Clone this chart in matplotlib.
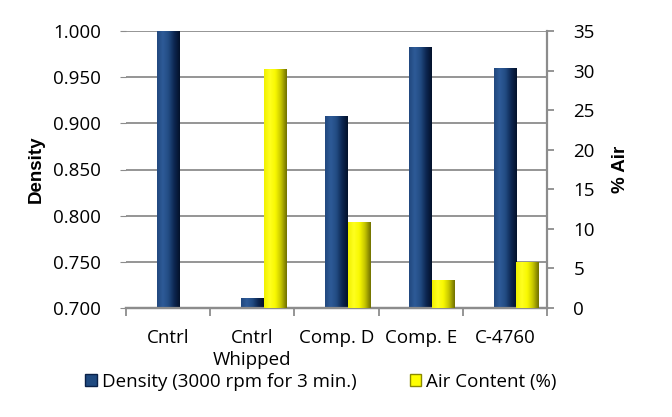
import matplotlib
matplotlib.use("Agg")
import matplotlib.pyplot as plt
import numpy as np
from matplotlib.colors import LinearSegmentedColormap
from matplotlib.patches import Patch

plt.rcParams['font.family'] = ['Open Sans', 'DejaVu Sans']

categories = ["Cntrl", "Cntrl\nWhipped", "Comp. D", "Comp. E", "C-4760"]
density = [1.000, 0.711, 0.908, 0.983, 0.960]
air = [0.0, 30.2, 10.9, 3.5, 5.8]
density_ticks = [0.700, 0.750, 0.800, 0.850, 0.900, 0.950, 1.000]
air_ticks = [0, 5, 10, 15, 20, 25, 30, 35]

fig = plt.figure(figsize=(6.72, 4.17), dpi=100)
ax = fig.add_axes([126/672, 1-308/417, (547-126)/672, (308-31)/417])
ax2 = ax.twinx()

x = np.arange(len(categories))
w = 0.27

navy_cmap = LinearSegmentedColormap.from_list("navy", ["#22487e", "#2e5b98", "#224c83", "#0d2752", "#03112a"])
yel_cmap = LinearSegmentedColormap.from_list("yel", ["#f0f000", "#ffff20", "#f8f800", "#c4c400", "#707000"])

def shade(axis, bars, cmap):
    grad = np.linspace(0, 1, 64).reshape(1, -1)
    for b in bars:
        x0, y0 = b.get_x(), b.get_y()
        x1, y1 = x0 + b.get_width(), y0 + b.get_height()
        if b.get_height() <= 0:
            continue
        im = axis.imshow(grad, cmap=cmap, extent=[x0, x1, y0, y1], aspect='auto',
                         interpolation='bicubic', zorder=3)
        im.set_clip_path(b)

b1 = ax.bar(x, np.array(density) - 0.7, w, bottom=0.7, color="#1f4a80", zorder=2, linewidth=0)
ax.set_ylim(0.7, 1.0)
shade(ax, b1, navy_cmap)

b2 = ax2.bar(x + w, air, w, color="#ffff00", zorder=2, linewidth=0)
ax2.set_ylim(0, 35)
shade(ax2, b2, yel_cmap)
ax.set_xlim(-0.5, 4.5)
ax2.set_xlim(-0.5, 4.5)

fs = 13.5
gray = "#8c8c8c"
ax.set_yticks(density_ticks)
ax.set_yticklabels([f"{v:.3f}" for v in density_ticks], fontsize=fs)
ax.yaxis.grid(True, color=gray, linewidth=1.3, zorder=0)
ax.set_axisbelow(True)
ax.tick_params(axis='y', length=4, color=gray, pad=14)
ax2.set_yticks(air_ticks)
ax2.set_yticklabels([str(v) for v in air_ticks], fontsize=fs)
ax2.tick_params(axis='y', length=5, width=1.3, color=gray, pad=14)

ax.set_xticks(np.arange(-0.5, 5, 1), minor=False)
ax.set_xticklabels([])
ax.tick_params(axis='x', length=6, width=1.3, color=gray)
ax.set_xticks(x, minor=True)
ax.set_xticklabels(categories, minor=True, fontsize=fs, linespacing=1.3)
ax.tick_params(axis='x', which='minor', length=0, pad=15)
ax2.tick_params(axis='x', which='both', length=0)

for a in (ax, ax2):
    a.spines['top'].set_visible(False)
    a.spines['left'].set_visible(False)
    a.spines['right'].set_visible(False)
    a.spines['bottom'].set_color(gray)
    a.spines['bottom'].set_linewidth(1.6)
ax2.spines['right'].set_visible(True)
ax2.spines['right'].set_color(gray)
ax2.spines['right'].set_linewidth(1.6)

ax.set_ylabel("Density", fontsize=fs, fontweight='bold', family=['Liberation Sans', 'DejaVu Sans'], labelpad=6)
ax2.set_ylabel("% Air", fontsize=fs, fontweight='bold', family=['Liberation Sans', 'DejaVu Sans'], labelpad=12)

handles = [Patch(facecolor="#1f4a80", edgecolor="#0a2148"), Patch(facecolor="#ffff00", edgecolor="#8a8a00")]
fig.legend(handles, ["Density (3000 rpm for 3 min.)", "Air Content (%)"], loc='center',
           bbox_to_anchor=(0.478, 1-382/417), ncol=2, frameon=False, fontsize=fs,
           handlelength=0.6, handleheight=0.6, handletextpad=0.3, columnspacing=2.8)

fig.savefig("out.png", dpi=100)
